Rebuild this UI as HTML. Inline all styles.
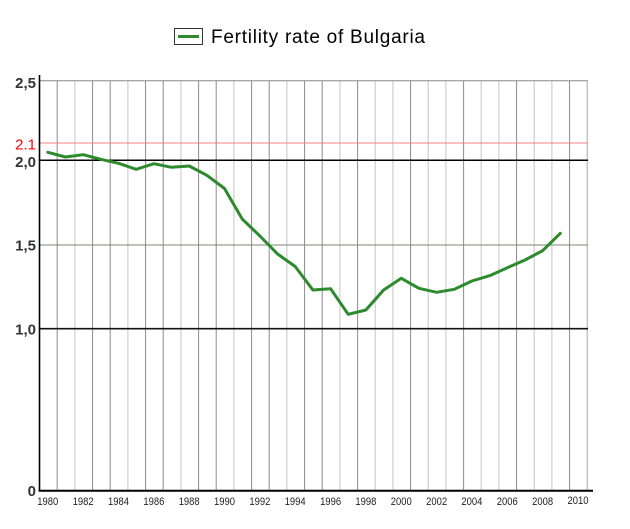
<!DOCTYPE html>
<html>
<head>
<meta charset="utf-8">
<style>
  html,body{margin:0;padding:0;background:#fff;}
  svg{display:block;}
  text{font-family:"Liberation Sans", Arial, sans-serif;}
</style>
</head>
<body>
<svg width="630" height="529" viewBox="0 0 630 529" xmlns="http://www.w3.org/2000/svg">
  <rect width="630" height="529" fill="#fff"/>

  <!-- Legend -->
  <rect x="174.5" y="28.5" width="28" height="16" fill="#fff" stroke="#333" stroke-width="1"/>
  <line x1="178" y1="36.5" x2="199" y2="36.5" stroke="#2d8a2d" stroke-width="3"/>
  <text x="211" y="43" font-size="19" fill="#000" textLength="214" lengthAdjust="spacing">Fertility rate of Bulgaria</text>

  <!-- vertical grid lines -->
  <g stroke="#8a8a8a" stroke-width="1">
    <line x1="57.2" y1="80.7" x2="57.2" y2="490"/>
    <line x1="74.9" y1="80.7" x2="74.9" y2="490" stroke="#c4c4c4"/>
    <line x1="92.6" y1="80.7" x2="92.6" y2="490"/>
    <line x1="110.2" y1="80.7" x2="110.2" y2="490"/>
    <line x1="127.9" y1="80.7" x2="127.9" y2="490" stroke="#c4c4c4"/>
    <line x1="145.6" y1="80.7" x2="145.6" y2="490"/>
    <line x1="163.2" y1="80.7" x2="163.2" y2="490"/>
    <line x1="180.9" y1="80.7" x2="180.9" y2="490" stroke="#c4c4c4"/>
    <line x1="198.6" y1="80.7" x2="198.6" y2="490"/>
    <line x1="216.2" y1="80.7" x2="216.2" y2="490"/>
    <line x1="233.9" y1="80.7" x2="233.9" y2="490" stroke="#c4c4c4"/>
    <line x1="251.6" y1="80.7" x2="251.6" y2="490"/>
    <line x1="269.2" y1="80.7" x2="269.2" y2="490"/>
    <line x1="286.9" y1="80.7" x2="286.9" y2="490" stroke="#c4c4c4"/>
    <line x1="304.6" y1="80.7" x2="304.6" y2="490"/>
    <line x1="322.2" y1="80.7" x2="322.2" y2="490"/>
    <line x1="339.9" y1="80.7" x2="339.9" y2="490" stroke="#c4c4c4"/>
    <line x1="357.6" y1="80.7" x2="357.6" y2="490"/>
    <line x1="375.2" y1="80.7" x2="375.2" y2="490" stroke="#c4c4c4"/>
    <line x1="392.9" y1="80.7" x2="392.9" y2="490" stroke="#c4c4c4"/>
    <line x1="410.6" y1="80.7" x2="410.6" y2="490"/>
    <line x1="428.2" y1="80.7" x2="428.2" y2="490" stroke="#c4c4c4"/>
    <line x1="445.9" y1="80.7" x2="445.9" y2="490" stroke="#c4c4c4"/>
    <line x1="463.6" y1="80.7" x2="463.6" y2="490"/>
    <line x1="481.2" y1="80.7" x2="481.2" y2="490" stroke="#c4c4c4"/>
    <line x1="498.9" y1="80.7" x2="498.9" y2="490" stroke="#c4c4c4"/>
    <line x1="516.6" y1="80.7" x2="516.6" y2="490"/>
    <line x1="534.2" y1="80.7" x2="534.2" y2="490" stroke="#c4c4c4"/>
    <line x1="551.9" y1="80.7" x2="551.9" y2="490" stroke="#c4c4c4"/>
    <line x1="569.6" y1="80.7" x2="569.6" y2="490"/>
    <line x1="587.3" y1="80.7" x2="587.3" y2="490" stroke="#c4c4c4" stroke-width="1.5"/>
  </g>

  <!-- horizontal lines -->
  <line x1="39" y1="80.7" x2="588" y2="80.7" stroke="#888" stroke-width="1"/>
  <line x1="39" y1="143" x2="588" y2="143" stroke="#f08080" stroke-width="1"/>
  <line x1="39" y1="160.2" x2="588" y2="160.2" stroke="#000" stroke-width="1.5"/>
  <line x1="39" y1="245" x2="588" y2="245" stroke="#7a877a" stroke-width="1"/>
  <line x1="39" y1="328.7" x2="588" y2="328.7" stroke="#111" stroke-width="1.6"/>

  <!-- axes -->
  <line x1="39.5" y1="75" x2="39.5" y2="491.5" stroke="#000" stroke-width="1.6"/>
  <line x1="38.5" y1="490.8" x2="593" y2="490.8" stroke="#000" stroke-width="2"/>

  <!-- Y labels -->
  <g font-size="15" font-weight="bold" fill="#333" text-anchor="end">
    <text x="36" y="88.2">2,5</text>
    <text x="36" y="167">2,0</text>
    <text x="36" y="250.7">1,5</text>
    <text x="36" y="334.7">1,0</text>
    <text x="36" y="496">0</text>
  </g>
  <text x="36" y="149.5" font-size="15" fill="#ff0000" text-anchor="end">2.1</text>

  <!-- X labels -->
  <g font-size="11" fill="#222" text-anchor="middle">
    <text x="47.8" y="505" textLength="21" lengthAdjust="spacingAndGlyphs">1980</text>
    <text x="83.2" y="505" textLength="21" lengthAdjust="spacingAndGlyphs">1982</text>
    <text x="118.5" y="505" textLength="21" lengthAdjust="spacingAndGlyphs">1984</text>
    <text x="153.9" y="505" textLength="21" lengthAdjust="spacingAndGlyphs">1986</text>
    <text x="189.2" y="505" textLength="21" lengthAdjust="spacingAndGlyphs">1988</text>
    <text x="224.5" y="505" textLength="21" lengthAdjust="spacingAndGlyphs">1990</text>
    <text x="259.9" y="505" textLength="21" lengthAdjust="spacingAndGlyphs">1992</text>
    <text x="295.2" y="505" textLength="21" lengthAdjust="spacingAndGlyphs">1994</text>
    <text x="330.6" y="505" textLength="21" lengthAdjust="spacingAndGlyphs">1996</text>
    <text x="365.9" y="505" textLength="21" lengthAdjust="spacingAndGlyphs">1998</text>
    <text x="401.3" y="505" textLength="21" lengthAdjust="spacingAndGlyphs">2000</text>
    <text x="436.6" y="505" textLength="21" lengthAdjust="spacingAndGlyphs">2002</text>
    <text x="471.9" y="505" textLength="21" lengthAdjust="spacingAndGlyphs">2004</text>
    <text x="507.3" y="505" textLength="21" lengthAdjust="spacingAndGlyphs">2006</text>
    <text x="542.6" y="505" textLength="21" lengthAdjust="spacingAndGlyphs">2008</text>
    <text x="578" y="504" textLength="21" lengthAdjust="spacingAndGlyphs">2010</text>
  </g>

  <!-- data series -->
  <polyline fill="none" stroke="#2d8a2d" stroke-width="3" stroke-linejoin="round" stroke-linecap="round"
    points="47.8,152.3 65.5,157 83.2,154.7 100.8,159.3 118.5,163.3 136.2,169.3 153.9,163.7 171.5,167.3 189.2,166 206.9,175.3 224.5,188.5 242.2,219 259.9,236 277.6,254 295.2,266.5 312.9,290 330.6,288.7 348.2,314.3 365.9,310 383.6,290 401.3,278.3 418.9,288.3 436.6,292.3 454.3,289.3 471.9,281 489.6,275.7 507.3,267.7 525,260 542.6,250.7 560.3,233.3"/>
</svg>
</body>
</html>
